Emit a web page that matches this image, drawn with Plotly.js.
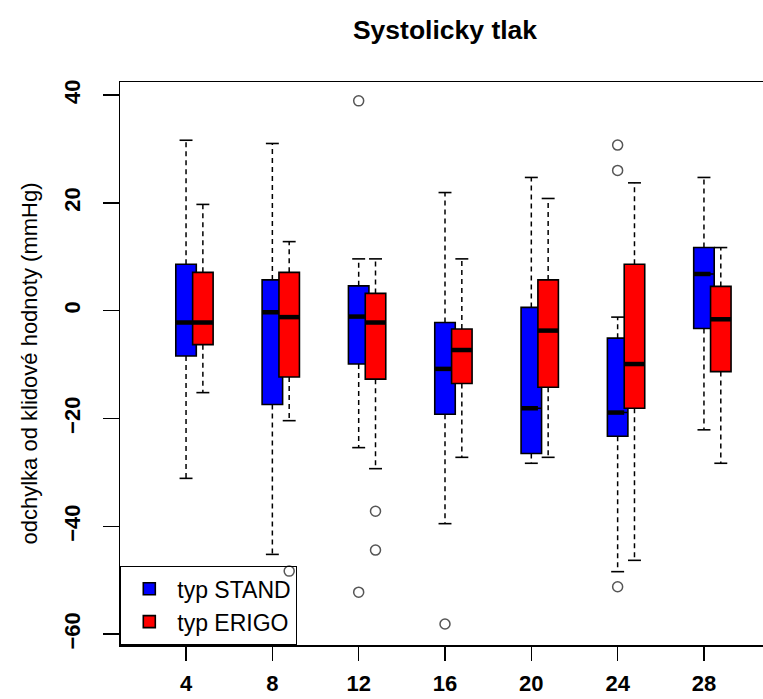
<!DOCTYPE html>
<html><head><meta charset="utf-8">
<script src="https://cdn.plot.ly/plotly-3.0.1.min.js"></script>
<style>html,body{margin:0;padding:0;overflow:hidden;background:#fff}</style>
</head><body><div id="chart"></div>
<script>
// categories (minutes)
const times = [4, 8, 12, 16, 20, 24, 28];
const tickLabels = ['4', '8', '12', '16', '20', '24', '28'];
const yTicks = [-60, -40, -20, 0, 20, 40];
const yTickLabels = ['\u221260', '\u221240', '\u221220', '0', '20', '40'];

// typ STAND (blue)
const standLower = [-31.1, -45.2, -25.4, -39.5, -28.3, -48.4, -22.1];
const standQ1    = [-8.4, -17.4, -9.9, -19.2, -26.5, -23.3, -3.3];
const standMed   = [-2.2, -0.3, -1.1, -10.8, -18.1, -18.9, 6.8];
const standQ3    = [8.6, 5.7, 4.6, -2.2, 0.6, -5.1, 11.7];
const standUpper = [31.6, 31.0, 9.6, 21.9, 24.7, -1.2, 24.7];
const standOutT  = [12, 12, 16, 24, 24, 24];
const standOutY  = [38.9, -52.2, -58.1, 30.7, 26.0, -51.2];

// typ ERIGO (red)
const erigoLower = [-15.2, -20.4, -29.3, -27.2, -27.2, -46.3, -28.3];
const erigoQ1    = [-6.3, -12.3, -12.7, -13.5, -14.2, -18.1, -11.3];
const erigoMed   = [-2.2, -1.2, -2.2, -7.3, -3.7, -9.9, -1.6];
const erigoQ3    = [7.1, 7.1, 3.2, -3.4, 5.7, 8.6, 4.5];
const erigoUpper = [19.7, 12.8, 9.6, 9.6, 20.8, 23.7, 11.7];
const erigoOutT  = [8, 12, 12];
const erigoOutY  = [-48.3, -37.2, -44.4];

const BOX_W = 0.95, OFFSET = 0.78, CAP = 0.3;
const FONT = 'Liberation Sans, Arial, Helvetica, sans-serif';

function build(name, color, shift, lower, q1, med, q3, upper, outT, outY, medL, medR) {
  const xs = times.map(t => t + shift);
  const traces = [];
  traces.push({
    type: 'box', name: name, x: xs,
    q1: q1, median: med, q3: q3, lowerfence: q1, upperfence: q3,
    width: BOX_W, whiskerwidth: 0, boxpoints: false,
    fillcolor: color, line: {color: '#000', width: 1.6},
    hoverinfo: 'skip', showlegend: true
  });
  const wx = [], wy = [], cx = [], cy = [], mx = [], my = [];
  xs.forEach((c, i) => {
    wx.push(c, c, null, c, c, null);
    wy.push(q3[i], upper[i], null, q1[i], lower[i], null);
    cx.push(c - CAP, c + CAP, null, c - CAP, c + CAP, null);
    cy.push(upper[i], upper[i], null, lower[i], lower[i], null);
    mx.push(c + medL, c + medR, null);
    my.push(med[i], med[i], null);
  });
  traces.push({type: 'scatter', mode: 'lines', x: wx, y: wy, showlegend: false, hoverinfo: 'skip',
    line: {color: '#000', width: 1.5, dash: '5px,4px'}});
  traces.push({type: 'scatter', mode: 'lines', x: cx, y: cy, showlegend: false, hoverinfo: 'skip',
    line: {color: '#000', width: 1.6}});
  traces.push({type: 'scatter', mode: 'lines', x: mx, y: my, showlegend: false, hoverinfo: 'skip',
    line: {color: '#000', width: 4.5}});
  traces.push({type: 'scatter', mode: 'markers', x: outT.map(t => t + shift), y: outY,
    showlegend: false, hoverinfo: 'skip',
    marker: {symbol: 'circle-open', size: 10, color: '#555', line: {width: 1.5}}});
  return traces;
}

const data = [].concat(
  build('typ STAND', '#0000ff', 0, standLower, standQ1, standMed, standQ3, standUpper, standOutT, standOutY,
        -BOX_W / 2, OFFSET - BOX_W / 2),
  build('typ ERIGO', '#ff0000', OFFSET, erigoLower, erigoQ1, erigoMed, erigoQ3, erigoUpper, erigoOutT, erigoOutY,
        -BOX_W / 2, BOX_W / 2)
);

const layout = {
  width: 772, height: 699,
  margin: {l: 120, r: 2, t: 82, b: 54},
  paper_bgcolor: '#fff', plot_bgcolor: '#fff',
  font: {family: FONT, color: '#000', size: 22},
  title: {text: 'Systolicky tlak', font: {family: FONT, size: 26.5, weight: 'bold', color: '#000'},
          x: 0.5, xref: 'paper', xanchor: 'center', y: 0.957, yref: 'container', yanchor: 'middle'},
  boxmode: 'overlay',
  showlegend: true,
  legend: {x: 0, y: 0, xanchor: 'left', yanchor: 'bottom', bgcolor: 'rgba(0,0,0,0)',
           bordercolor: '#000', borderwidth: 1.3, font: {family: FONT, size: 23},
           itemwidth: 46, traceorder: 'normal'},
  xaxis: {range: [0.94, 31.06], tickmode: 'array', tickvals: times, ticktext: tickLabels,
          ticks: 'outside', ticklen: 14, tickwidth: 1.5, tickcolor: '#000', ticklabelstandoff: 4,
          showline: true, mirror: true, linecolor: '#000', linewidth: 1.5,
          showgrid: false, zeroline: false, tickfont: {family: FONT, size: 22, weight: 'bold'}},
  yaxis: {range: [-62.0, 42.4], tickmode: 'array', tickvals: yTicks, ticktext: yTickLabels,
          ticks: 'outside', ticklen: 16, tickwidth: 1.5, tickcolor: '#000', tickangle: -90,
          ticklabelstandoff: 14,
          showline: true, mirror: true, linecolor: '#000', linewidth: 1.5,
          showgrid: false, zeroline: false, tickfont: {family: FONT, size: 22, weight: 'bold'},
          title: {text: 'odchylka od klidové hodnoty (mmHg)', font: {family: FONT, size: 22}, standoff: 16}}
};

Plotly.newPlot('chart', data, layout, {staticPlot: true, displayModeBar: false});
</script>
</body></html>
